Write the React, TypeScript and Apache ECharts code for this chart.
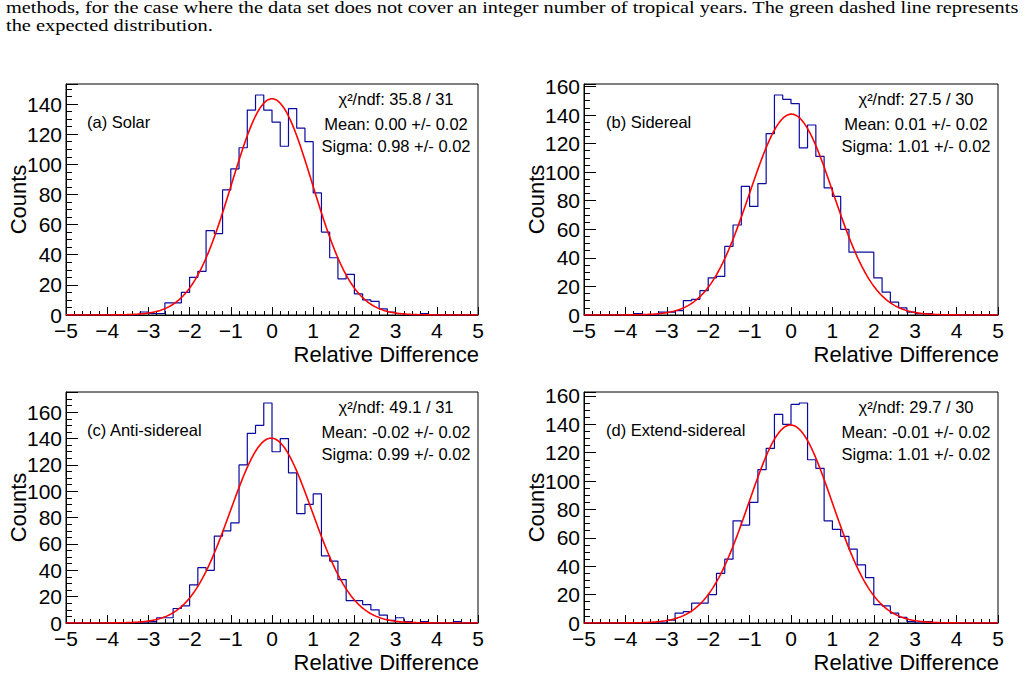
import React, { useEffect, useRef } from "react";
import * as echarts from "echarts";

// Histogram binning: 50 bins of width 0.2 spanning [-5, 5]
const HIST_MIN = -5;
const HIST_MAX = 5;
const BIN_WIDTH = 0.2;

const captionLines = [
  "methods, for the case where the data set does not cover an integer number of tropical years. The green dashed line represents",
  "the expected distribution.",
];

const panelLabels = ["(a) Solar", "(b) Sidereal", "(c) Anti-sidereal", "(d) Extend-sidereal"];

// Bin contents, lowest bin first
const solarCounts = [
  0, 0, 0, 0, 0, 0, 0, 0, 0, 2,
  1, 1, 8, 8, 15, 25, 29, 56, 54, 83,
  97, 111, 136, 146, 136, 128, 112, 137, 124, 115,
  81, 55, 38, 24, 27, 14, 10, 9, 4, 2,
  1, 0, 0, 1, 0, 0, 0, 0, 0, 0,
];
const siderealCounts = [
  0, 0, 0, 0, 0, 0, 1, 0, 0, 2,
  2, 3, 10, 11, 17, 26, 27, 48, 63, 90,
  76, 92, 127, 154, 151, 148, 117, 133, 111, 89,
  83, 60, 44, 44, 44, 26, 16, 9, 5, 2,
  1, 1, 0, 0, 0, 0, 0, 0, 0, 0,
];
const antiSiderealCounts = [
  0, 0, 0, 0, 0, 0, 0, 0, 0, 0,
  1, 4, 4, 11, 13, 29, 42, 40, 66, 70,
  76, 120, 144, 150, 167, 130, 140, 114, 83, 90,
  98, 51, 47, 33, 17, 17, 14, 10, 6, 2,
  4, 1, 0, 1, 0, 0, 0, 1, 0, 0,
];
const extendSiderealCounts = [
  0, 0, 0, 0, 0, 0, 0, 0, 0, 0,
  2, 7, 8, 14, 14, 20, 35, 45, 72, 69,
  85, 108, 123, 147, 140, 154, 155, 115, 109, 72,
  66, 61, 52, 41, 32, 13, 12, 7, 4, 1,
  0, 1, 0, 0, 0, 0, 0, 0, 0, 0,
];
const panelCounts = [solarCounts, siderealCounts, antiSiderealCounts, extendSiderealCounts];

// Gaussian fit results
const fitAmplitude = [143.5, 140.6, 140.3, 139.5];
const fitMean = [0.0, 0.01, -0.02, -0.01];
const fitMeanErr = [0.02, 0.02, 0.02, 0.02];
const fitSigma = [0.98, 1.01, 0.99, 1.01];
const fitSigmaErr = [0.02, 0.02, 0.02, 0.02];
const fitChi2 = [35.8, 27.5, 49.1, 29.7];
const fitNdf = [31, 30, 31, 30];

const X_TITLE = "Relative Difference";
const Y_TITLE = "Counts";

const SANS = "'Liberation Sans', Arial, Helvetica, sans-serif";
const SERIF = "'Liberation Serif', 'Times New Roman', serif";
const HIST_COLOR = "#0a0a9e";
const FIT_COLOR = "#ff0000";

// Pad frames (plot areas) in page pixels
const frames = [
  { left: 66, top: 84, width: 412, height: 231 },
  { left: 584, top: 84, width: 414, height: 231 },
  { left: 66, top: 392, width: 412, height: 231 },
  { left: 584, top: 392, width: 414, height: 231 },
];

const r4 = (v: number) => Math.round(v * 1e4) / 1e4;

function stepOutline(counts: number[]): number[][] {
  const pts: number[][] = [];
  counts.forEach((c, i) => {
    const lo = r4(HIST_MIN + i * BIN_WIDTH);
    const hi = r4(lo + BIN_WIDTH);
    pts.push([lo, c], [hi, c]);
  });
  return pts;
}

function gaussianCurve(amp: number, mean: number, sigma: number): number[][] {
  const pts: number[][] = [];
  const n = 500;
  for (let k = 0; k <= n; k++) {
    const x = r4(HIST_MIN + ((HIST_MAX - HIST_MIN) * k) / n);
    const z = (x - mean) / sigma;
    pts.push([x, amp * Math.exp(-0.5 * z * z)]);
  }
  return pts;
}

function textWidth(text: string, font: string): number {
  const ctx = document.createElement("canvas").getContext("2d");
  if (!ctx) return text.length * 7;
  ctx.font = font;
  return ctx.measureText(text).width;
}

const minus = (v: number) => String(v).replace("-", "\u2212");

function buildOption() {
  const xAxis: any[] = [];
  const yAxis: any[] = [];
  const series: any[] = [];
  const graphic: any[] = [];

  frames.forEach((f, i) => {
    const counts = panelCounts[i];
    const yMax = 1.05 * Math.max(...counts);
    xAxis.push(
      {
        gridIndex: i,
        type: "value",
        position: "bottom",
        min: HIST_MIN,
        max: HIST_MAX,
        interval: 1,
        axisLine: { show: true, onZero: false, lineStyle: { color: "#000", width: 1 } },
        axisTick: { show: true, inside: true, length: 8, lineStyle: { color: "#000", width: 1 } },
        axisLabel: {
          show: true,
          margin: 8,
          lineHeight: 15,
          color: "#000",
          fontSize: 21,
          fontFamily: SANS,
          showMinLabel: true,
          showMaxLabel: true,
          formatter: (v: number) => minus(v),
        },
        splitLine: { show: false },
      },
      {
        gridIndex: i,
        type: "value",
        position: "bottom",
        min: HIST_MIN,
        max: HIST_MAX,
        interval: 0.2,
        axisLine: { show: false, onZero: false },
        axisTick: { show: true, inside: true, length: 4, lineStyle: { color: "#000", width: 1 } },
        axisLabel: { show: false },
        splitLine: { show: false },
      }
    );
    yAxis.push(
      {
        gridIndex: i,
        type: "value",
        position: "left",
        min: 0,
        max: yMax,
        interval: 20,
        axisLine: { show: true, onZero: false, lineStyle: { color: "#000", width: 1 } },
        axisTick: { show: true, inside: true, length: 12, lineStyle: { color: "#000", width: 1 } },
        axisLabel: {
          show: true,
          margin: 4,
          lineHeight: 15,
          color: "#000",
          fontSize: 21,
          fontFamily: SANS,
          showMinLabel: true,
          showMaxLabel: true,
          formatter: (v: number) => (Math.abs(v % 20) < 1e-6 ? String(v) : ""),
        },
        splitLine: { show: false },
      },
      {
        gridIndex: i,
        type: "value",
        position: "left",
        min: 0,
        max: yMax,
        interval: 5,
        axisLine: { show: false, onZero: false },
        axisTick: { show: true, inside: true, length: 6, lineStyle: { color: "#000", width: 1 } },
        axisLabel: { show: false },
        splitLine: { show: false },
      }
    );

    series.push(
      {
        type: "line",
        xAxisIndex: 2 * i,
        yAxisIndex: 2 * i,
        data: stepOutline(counts),
        symbol: "none",
        lineStyle: { color: HIST_COLOR, width: 1.2 },
        z: 3,
      },
      {
        type: "line",
        xAxisIndex: 2 * i,
        yAxisIndex: 2 * i,
        data: gaussianCurve(fitAmplitude[i], fitMean[i], fitSigma[i]),
        symbol: "none",
        smooth: false,
        lineStyle: { color: FIT_COLOR, width: 1.6 },
        z: 4,
      }
    );

    const right = f.left + f.width;
    const statsCx = right - 82;
    const statsLines = [
      `\u03c7\u00b2/ndf: ${fitChi2[i].toFixed(1)} / ${fitNdf[i]}`,
      `Mean: ${fitMean[i].toFixed(2)} +/- ${fitMeanErr[i].toFixed(2)}`,
      `Sigma: ${fitSigma[i].toFixed(2)} +/- ${fitSigmaErr[i].toFixed(2)}`,
    ];
    const statsDy = [15, 39.5, 61.7];
    statsLines.forEach((t, k) => {
      graphic.push({
        type: "text",
        x: statsCx,
        y: f.top + statsDy[k],
        style: { text: t, fill: "#000", font: `16.5px ${SANS}`, align: "center", verticalAlign: "middle" },
      });
    });

    graphic.push({
      type: "text",
      x: i % 2 === 0 ? f.left + 21 : f.left + 22,
      y: f.top + 37.5,
      style: { text: panelLabels[i], fill: "#000", font: `16.5px ${SANS}`, align: "left", verticalAlign: "middle" },
    });

    graphic.push({
      type: "text",
      x: right + 1,
      y: f.top + f.height + 39.5,
      style: { text: X_TITLE, fill: "#000", font: `22px ${SANS}`, align: "right", verticalAlign: "middle" },
    });

    graphic.push({
      type: "text",
      x: f.left - 48,
      y: f.top + f.height / 2,
      rotation: Math.PI / 2,
      style: { text: Y_TITLE, fill: "#000", font: `22px ${SANS}`, align: "center", verticalAlign: "middle" },
    });
  });

  // Caption above the figure, stretched to its justified width
  const capFont = `16px ${SERIF}`;
  const capTargets = [1014, 207];
  const capY = [7.8, 26];
  captionLines.forEach((t, k) => {
    const w = textWidth(t, capFont);
    graphic.push({
      type: "text",
      x: 6,
      y: capY[k],
      scaleX: capTargets[k] / w,
      style: {
        text: t,
        fill: "#000",
        font: capFont,
        lineHeight: 12,
        align: "left",
        verticalAlign: "middle",
      },
    });
  });

  return {
    animation: false,
    backgroundColor: "#ffffff",
    grid: frames.map((f) => ({
      left: f.left,
      top: f.top,
      width: f.width,
      height: f.height,
      show: true,
      borderColor: "#000",
      borderWidth: 1,
      backgroundColor: "transparent",
    })),
    xAxis,
    yAxis,
    series,
    graphic,
  };
}

export default function App() {
  const ref = useRef<HTMLDivElement>(null);
  useEffect(() => {
    if (!ref.current) return;
    const chart = echarts.init(ref.current, undefined, { renderer: "svg" });
    chart.setOption(buildOption());
    return () => chart.dispose();
  }, []);
  return (
    <div
      ref={ref}
      style={{ position: "fixed", left: 0, top: 0, width: 1027, height: 677, background: "#fff" }}
    />
  );
}
